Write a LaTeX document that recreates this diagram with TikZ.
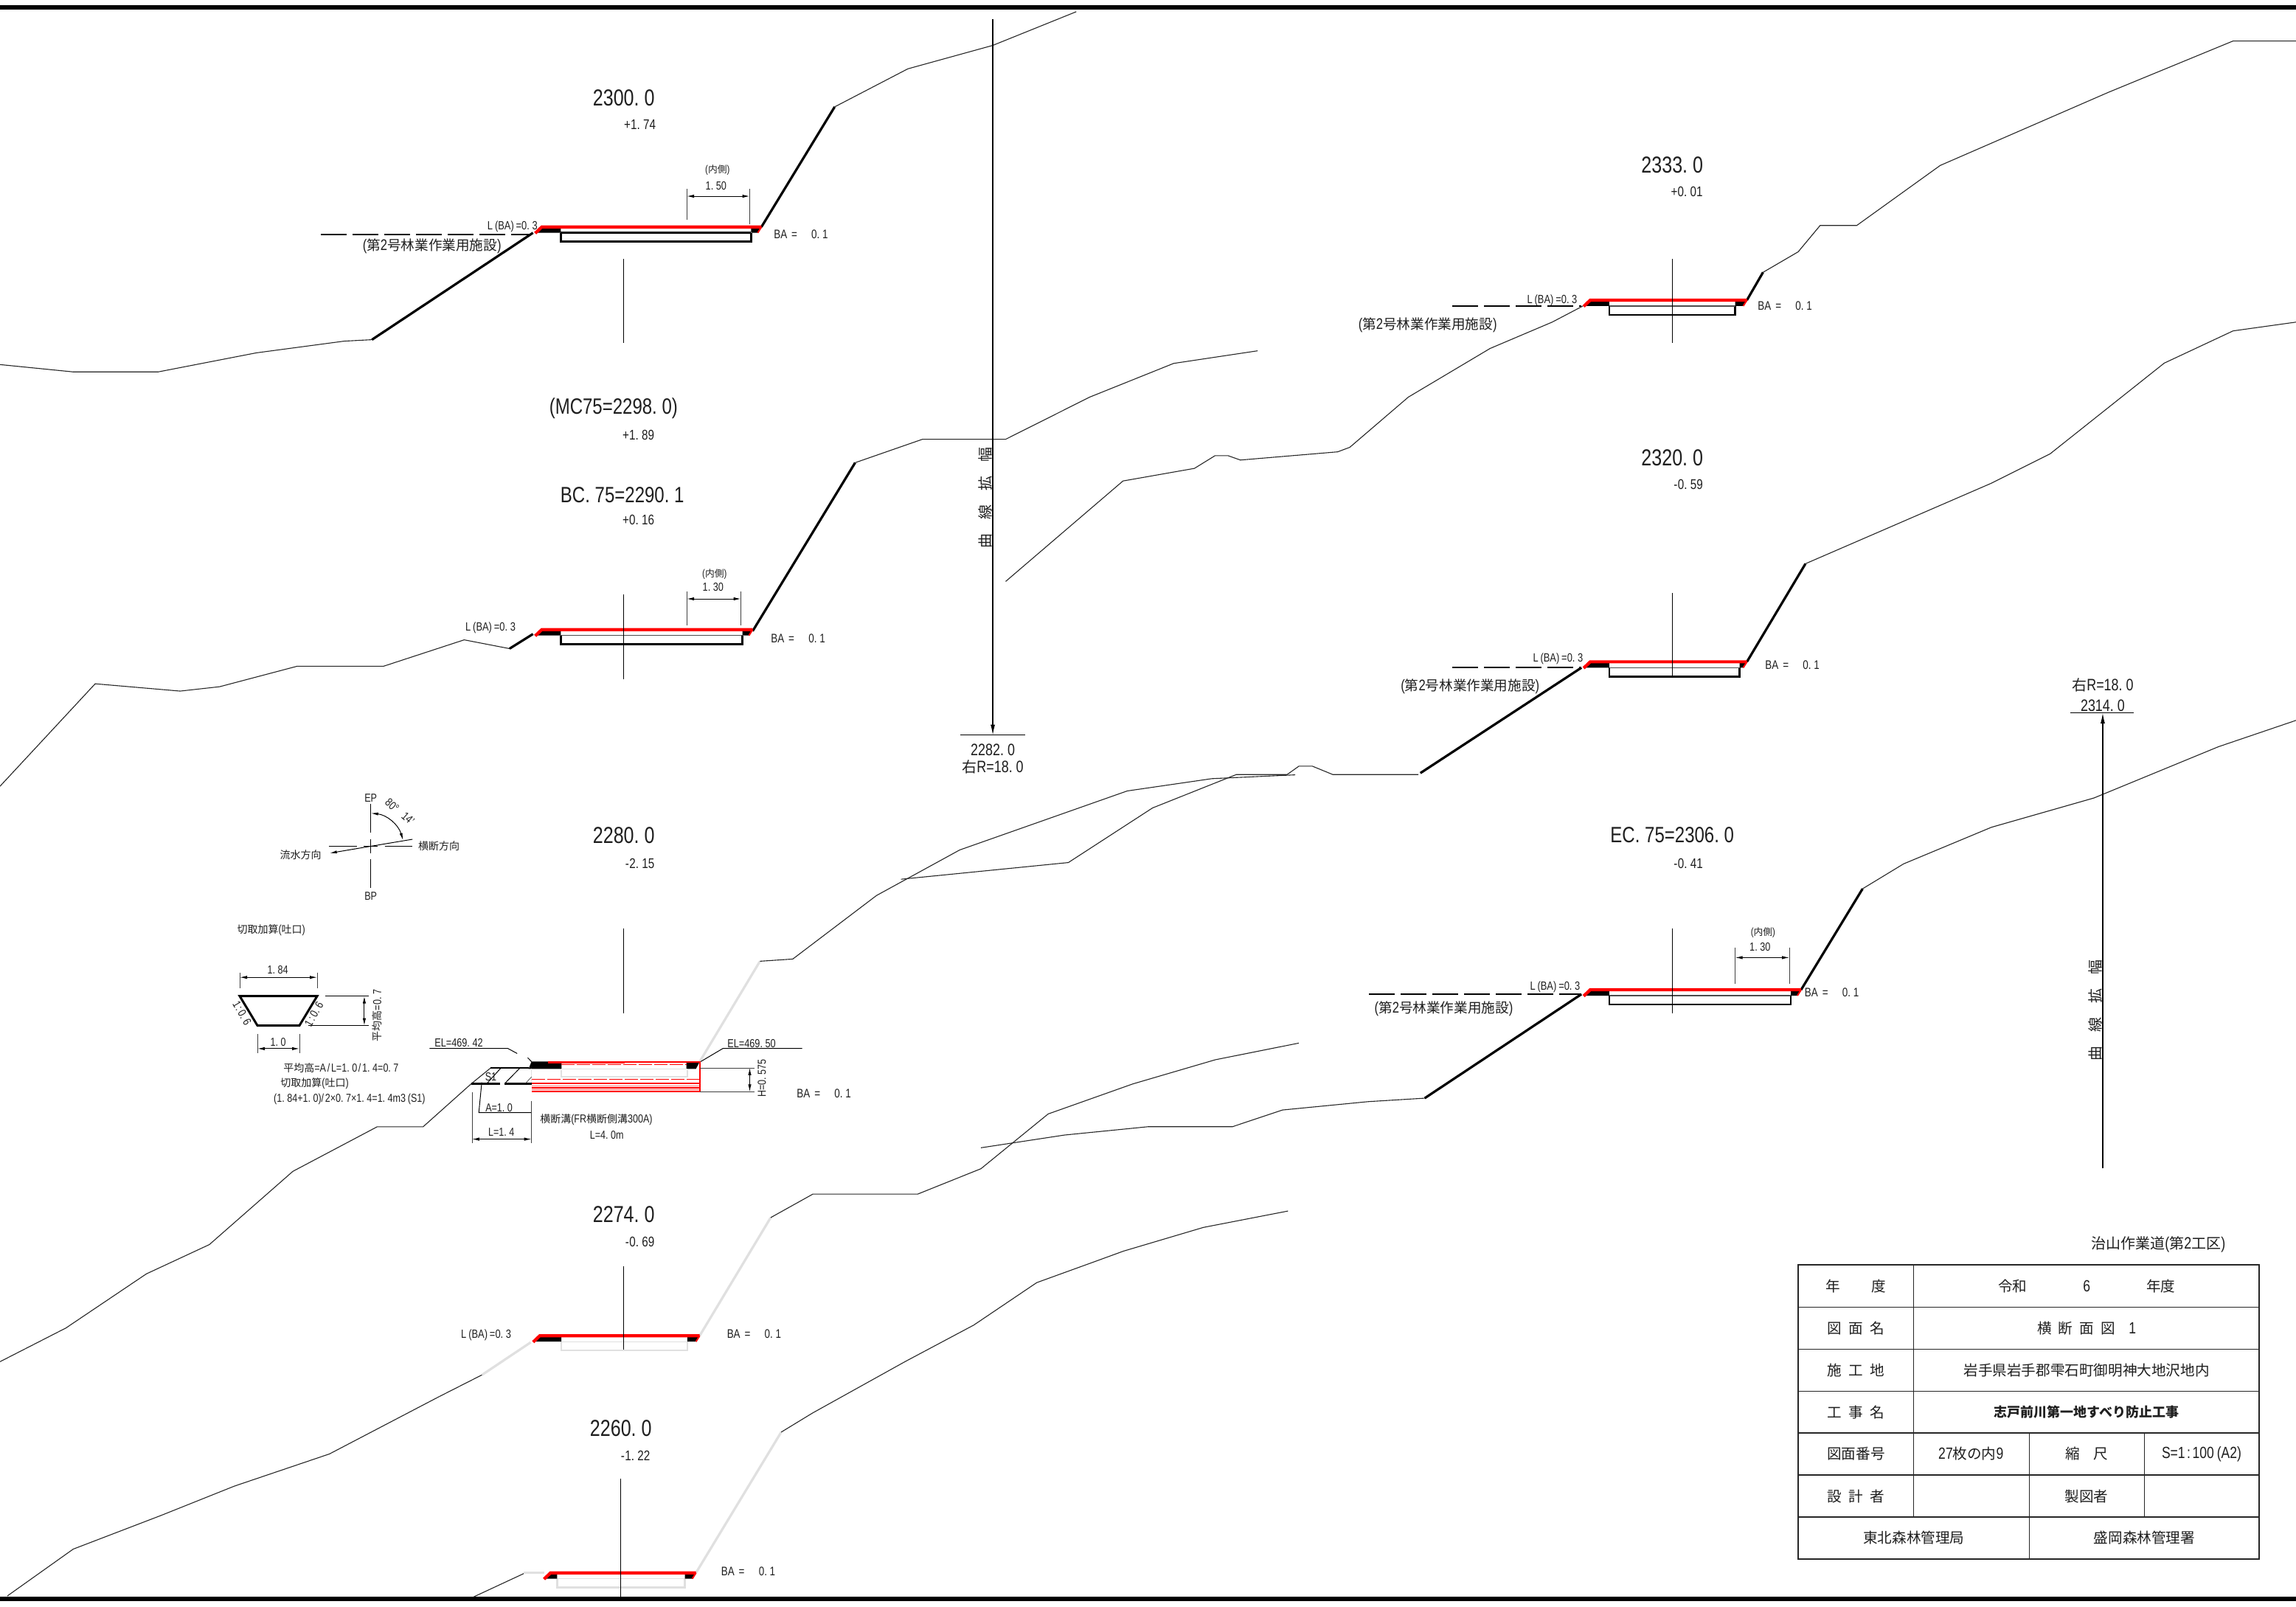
\documentclass[tikz,border=0pt]{standalone}
\usepackage{fontspec}
\usetikzlibrary{arrows.meta}
\setmainfont[FakeStretch=0.8,Scale=1.12]{Liberation Sans}
\newfontfamily\cj{Noto Sans CJK JP}
\newcommand{\J}[1]{{\cj #1}}
\newcommand{\gp}{\hspace{4.6pt}}
\newcommand{\BAt}{BA\hspace{3pt}=\hspace{9.6pt}0.1}
\newdimen\cunit
% half-width spacing for the narrow punctuation of the proportional Latin face
\XeTeXcharclass`\.=7
\XeTeXcharclass`\(=8
\XeTeXcharclass`\)=9
\XeTeXcharclass`\:=10
\XeTeXcharclass`\/=10
\XeTeXcharclass`\-=11
\XeTeXinterchartoks 7 0={\kern.25\cunit}
\XeTeXinterchartoks 0 8={\kern.2\cunit}
\XeTeXinterchartoks 9 0={\kern.2\cunit}
\XeTeXinterchartoks 0 10={\kern.125\cunit}
\XeTeXinterchartoks 10 0={\kern.125\cunit}
\XeTeXinterchartoks 11 0={\kern.03\cunit}
\definecolor{roadred}{RGB}{255,0,0}
\definecolor{softgray}{RGB}{224,224,224}
\tikzset{
  txt/.style={inner sep=0pt,outer sep=0pt,text=black!88},
  ground/.style={line width=0.55pt,black!85,line join=miter},
  cutslope/.style={line width=1.6pt,black},
  graycut/.style={line width=1.6pt,softgray},
  redline/.style={line width=2.1pt,roadred},
  thin line/.style={line width=0.5pt,black},
  centerl/.style={line width=0.7pt,black},
  dimline/.style={line width=0.5pt,black,{Latex[length=5pt,width=2.2pt]}-{Latex[length=5pt,width=2.2pt]}},
  wit/.style={line width=0.35pt,black!75},
  facility/.style={line width=1pt,black,dash pattern=on 17.5pt off 4pt},
  table/.style={line width=0.6pt,black!85},
  pile/.style={line width=0.6pt,black,-{Latex[length=7pt,width=3pt]}},
}
\newcommand{\Tx}[5][]{\node[txt,#1] (#2) at (#3) {\fontsize{#4}{#4}\selectfont\cunit=#4pt\relax\XeTeXinterchartokenstate=1 #5};}
% xL xa xb xR y bodyStyle topStyle
\newcommand{\RoadSec}[7]{%
  \draw[#6] (#2,#5+4) -- (#2,#5+10) -- (#3,#5+10) -- (#3,#5+4);
  \draw[#7] (#2,#5+4) -- (#3,#5+4);
  \fill[black] (#1,#5) -- (#2,#5) -- (#2,#5+4) -- (#1-4,#5+4) -- cycle;
  \fill[black] (#3,#5) -- (#4,#5) -- (#4-2.5,#5+4) -- (#3,#5+4) -- cycle;
  \draw[redline] (#1-4.5,#5+4.3) -- (#1,#5) -- (#4,#5);
  \draw[line width=1pt,roadred] (#4,#5) -- (#4-2.5,#5+4);
}
\begin{document}
\begin{tikzpicture}[x=0.99267pt,y=-0.99267pt]
\useasboundingbox (0,0) rectangle (1568,1097.55);
\fill[white] (0,0) rectangle (1568,1097.55);
% frame
\draw[line width=3pt,black] (0,5) -- (1568,5);
\draw[line width=3pt,black] (0,1092) -- (1568,1092);

% ===== terrain left column
\draw[ground] (0,249) -- (50,254) -- (108,254) -- (175,241) -- (235,233) -- (254,232);
\draw[cutslope] (254,232) -- (364,159);
\draw[cutslope] (520,155) -- (570,73);
\draw[ground] (570,73) -- (620,47) -- (678,31) -- (735,8);

\draw[ground] (0,537) -- (65,467) -- (123,472) -- (150,469) -- (203,455) -- (262,455) -- (317,437) -- (348,443);
\draw[cutslope] (348,443) -- (364,433);
\draw[cutslope] (514,431) -- (584,316);
\draw[ground] (584,316) -- (630,300) -- (686.8,300) -- (744.2,271.2) -- (801.5,248.2) -- (858.8,239.6);

\draw[ground] (0,930) -- (45,907) -- (100,870) -- (143,850) -- (200,800) -- (257.5,769.6) -- (288.9,769.6) -- (321.8,740.2) -- (335.2,729.3);
\draw[line width=1.1pt,black] (335.2,729.3) -- (361,729.3);
\draw[graycut] (477.9,725) -- (519,656.5);
\draw[ground] (519,656.5) -- (541.4,655) -- (598.6,611.6) -- (655.4,580.5) -- (769.8,540.2) -- (827.6,531.8) -- (884.5,529.2);

\draw[ground] (5,1090) -- (50,1058) -- (110,1035) -- (160,1015) -- (225,993) -- (300,953.8);
\draw[ground] (300,953.8) -- (329.2,939);
\draw[graycut] (329.2,939) -- (362.4,916.8);
\draw[graycut] (477.8,912.3) -- (526.3,831.6);
\draw[ground] (526.3,831.6) -- (555.2,815.5) -- (626.8,815.5) -- (669.9,798.2) -- (715.8,760.8) -- (773.6,740.3) -- (829.9,723.8) -- (887,712.4);

\draw[ground] (323.3,1090.7) -- (357.7,1074.7);
\draw[graycut] (357.7,1074.2) -- (371.7,1074.2);
\draw[graycut] (475.3,1074.2) -- (533.5,978.1);
\draw[ground] (533.5,978.1) -- (555,965) -- (618,930) -- (665,905) -- (708,876) -- (748,861.5) -- (767.2,854.5) -- (821.8,838.3) -- (879.6,827.1);

% ===== terrain right column
\draw[ground] (615.3,600.5) -- (729.6,589.1) -- (787.1,551.8) -- (844.3,529) -- (879,529) -- (887,523.3) -- (896.3,523.3) -- (910.2,529) -- (968.6,529);
\draw[cutslope] (970,528) -- (1080,456);
\draw[cutslope] (1193,452) -- (1233,385);
\draw[ground] (1233,385) -- (1360,330) -- (1400,310) -- (1478,248) -- (1525,226) -- (1568,220);

\draw[ground] (686.8,397.1) -- (766.9,328.5) -- (815.7,319.9) -- (829.8,311.2) -- (838.6,311.2) -- (847.1,314.2) -- (913.5,308.6) -- (921.8,305.5) -- (961.8,271.2) -- (1017.6,238) -- (1060,220) -- (1081,209);
\draw[cutslope] (1193,205) -- (1204,186);
\draw[ground] (1204,186) -- (1228,172) -- (1243,154) -- (1268,154) -- (1325,113) -- (1440,63) -- (1525,28) -- (1568,28);

\draw[ground] (669.9,783.9) -- (727,775.2) -- (784.2,769.5) -- (841.7,769.5) -- (875.8,758.1) -- (934.2,752.4) -- (973.4,750);
\draw[cutslope] (973,750) -- (1080,679);
\draw[cutslope] (1230,676) -- (1272,607);
\draw[ground] (1272,607) -- (1300,590) -- (1360,565) -- (1430,545) -- (1515,510) -- (1568,492);

% ===== roads
\RoadSec{370}{383}{513}{520}{155}{line width=1.3pt,black}{line width=1.3pt,black}
\RoadSec{370}{383}{507}{514}{430}{line width=1.3pt,black}{line width=0.6pt,black!70}
\RoadSec{1086}{1099}{1185}{1193}{205}{line width=1.3pt,black}{line width=0.6pt,black!70}
\RoadSec{1086}{1099}{1188}{1193}{452}{line width=1.3pt,black}{line width=0.6pt,black!70}
\RoadSec{1086}{1099}{1223}{1230}{676}{line width=1.3pt,black}{line width=0.6pt,black!70}
\RoadSec{368.6}{383.4}{469.4}{477.8}{912.3}{line width=1.3pt,softgray}{line width=0.6pt,softgray}
\RoadSec{376}{380.5}{467.7}{475.3}{1074.2}{line width=1.3pt,softgray}{line width=0.6pt,softgray}

% ===== culvert section 2280
\fill[black] (363,725) -- (383.5,725) -- (383.5,730) -- (361,730) -- cycle;
\fill[black] (468.8,725) -- (477.9,725) -- (475.3,730) -- (468.8,730) -- cycle;
\draw[line width=1.6pt,roadred] (374.2,725.4) -- (426.4,725.4);
\draw[line width=0.8pt,roadred] (426.4,725.4) -- (477.9,725.4);
\draw[line width=0.5pt,roadred,dash pattern=on 9pt off 1.5pt] (383.5,727.1) -- (468.8,727.1);
\draw[line width=1pt,softgray] (383.5,731) -- (383.5,735.5) -- (469.6,735.5) -- (469.6,731);
\draw[line width=0.5pt,softgray] (383.5,730) -- (469.6,730);
\draw[line width=0.5pt,softgray] (363,730) -- (363,740);
\draw[line width=0.5pt,roadred,dash pattern=on 9pt off 1.5pt] (363.4,737.2) -- (477.9,737.2);
\draw[line width=0.7pt,roadred] (363.4,740) -- (477.9,740);
\draw[line width=0.3pt,roadred!60] (363.4,741.6) -- (477.9,741.6);
\draw[line width=0.8pt,roadred] (363.4,743) -- (477.9,743);
\draw[line width=0.3pt,roadred!60] (363.4,744.3) -- (477.9,744.3);
\draw[line width=0.9pt,roadred] (363.4,745.6) -- (477.9,745.6);
\draw[line width=0.8pt,roadred] (477.9,725) -- (477.9,746);
\draw[line width=1.5pt,black] (321.8,740.2) -- (341.6,740.2);
\draw[line width=1.5pt,black] (344.7,740.2) -- (363,740.2);
\draw[thin line] (342,729.5) -- (332.5,740);
\draw[thin line] (355,729.5) -- (344.7,740);
\draw[wit] (363,735.5) -- (358.8,740);
\draw[thin line] (293.3,716) -- (346.7,716) -- (353.2,719.5);
\draw[thin line] (360.4,722.4) -- (363,725.1);
\draw[thin line] (547.8,716) -- (493.8,716) -- (478.6,725);
\draw[thin line] (329,739.2) -- (327,759.9) -- (363,759.9);
\draw[wit] (363,751.8) -- (363,780.8);
\draw[wit] (322.3,746) -- (322.3,780.8);
\draw[dimline] (322.3,778) -- (363,778);
\draw[wit] (477.9,729.3) -- (515.1,729.3);
\draw[wit] (477.9,745.6) -- (515.1,745.6);
\draw[dimline] (512,729.3) -- (512,745.6);

% centre lines
\draw[centerl] (426,177) -- (426,234);
\draw[centerl] (426,406) -- (426,464);
\draw[centerl] (426,634) -- (426,692);
\draw[centerl] (426,865) -- (426,922);
\draw[centerl] (424,1010) -- (424,1092);
\draw[centerl] (1142,177) -- (1142,234);
\draw[centerl] (1142,405) -- (1142,462);
\draw[centerl] (1142,634) -- (1142,692);

% facility dashed lines
\draw[facility] (219,160) -- (362,160);
\draw[facility] (992,209) -- (1080,209);
\draw[facility] (992,456) -- (1080,456);
\draw[facility] (935,679) -- (1080,679);

% dims
\draw[wit] (469,129) -- (469,150);
\draw[wit] (512,129) -- (512,153);
\draw[dimline] (469,134) -- (512,134);
\draw[wit] (469,404) -- (469,427);
\draw[wit] (506,404) -- (506,427);
\draw[dimline] (469,409) -- (506,409);
\draw[wit] (1185,647) -- (1185,672);
\draw[wit] (1222,647) -- (1222,672);
\draw[dimline] (1185,654) -- (1222,654);

% curve-widening arrows
\draw[pile] (678,13) -- (678,502);
\draw[thin line] (656,502) -- (700,502);
\draw[pile] (1436,798) -- (1436,487);
\draw[thin line] (1414,487) -- (1457,487);

% ===== compass
\draw[thin line] (253.2,549.2) -- (253.2,568.5);
\draw[thin line] (253.2,573) -- (253.2,583);
\draw[thin line] (253.2,586.9) -- (253.2,606.6);
\draw[thin line] (224.6,578) -- (243.8,578);
\draw[thin line] (248.5,578) -- (257.7,578);
\draw[thin line] (262.7,578) -- (281.7,578);
\draw[thin line,-{Latex[length=5pt,width=2pt]}] (281.7,573.2) -- (225,582.7);
\draw[thin line,{Latex[length=5pt,width=2pt]}-{Latex[length=5pt,width=2pt]}] (275.3,574) .. controls (272,563) and (264,556.5) .. (253.2,555.4);

% ===== trapezoid
\draw[line width=1.5pt,black,line join=miter] (163.7,680.3) -- (216.6,680.3) -- (204.5,700.4) -- (175.8,700.4) -- cycle;
\draw[wit] (163.7,664.2) -- (163.7,674.8);
\draw[wit] (216.6,664.2) -- (216.6,674.8);
\draw[dimline] (163.7,667.5) -- (216.6,667.5);
\draw[thin line] (222.1,680.3) -- (251.8,680.3);
\draw[thin line] (210.7,700.4) -- (251.8,700.4);
\draw[dimline] (248.8,680.3) -- (248.8,700.4);
\draw[wit] (175.8,706.2) -- (175.8,719.3);
\draw[wit] (204.5,706.2) -- (204.5,719.3);
\draw[dimline] (175.8,716.2) -- (204.5,716.2);

% ===== station labels
\Tx{s1}{426,67}{14}{2300.0}
\Tx{s1b}{437,85}{8.5}{+1.74}
\Tx{s2}{419,279}{13.4}{(MC75=2298.0)}
\Tx{s2b}{436,297}{8.5}{+1.89}
\Tx{s3}{425,338}{13.4}{BC.75=2290.1}
\Tx{s3b}{436,355}{8.5}{+0.16}
\Tx{s4}{426,570.5}{14}{2280.0}
\Tx{s4b}{437,590}{8.5}{-2.15}
\Tx{s5}{426,829.5}{14}{2274.0}
\Tx{s5b}{437,848}{8.5}{-0.69}
\Tx{s6}{424,975.5}{14}{2260.0}
\Tx{s6b}{434,994}{8.5}{-1.22}
\Tx{s7}{1142,112.5}{14}{2333.0}
\Tx{s7b}{1152,131}{8.5}{+0.01}
\Tx{s8}{1142,312.5}{14}{2320.0}
\Tx{s8b}{1153,331}{8.5}{-0.59}
\Tx{s9}{1142,570.5}{13.4}{EC.75=2306.0}
\Tx{s9b}{1153,590}{8.5}{-0.41}

% road labels
\Tx{l1}{350,155}{7.2}{L(BA)=0.3}
\Tx{l2}{335,429}{7.2}{L(BA)=0.3}
\Tx{l3}{1060,205}{7.2}{L(BA)=0.3}
\Tx{l4}{1064,450}{7.2}{L(BA)=0.3}
\Tx{l5}{1062,674}{7.2}{L(BA)=0.3}
\Tx{l6}{332,912}{7.2}{L(BA)=0.3}
\Tx{b1}{547,160}{7.5}{\BAt}
\Tx{b2}{545,436}{7.5}{\BAt}
\Tx{b3}{1219,209}{7.5}{\BAt}
\Tx{b4}{1224,454}{7.5}{\BAt}
\Tx{b5}{1251,678}{7.5}{\BAt}
\Tx{b6}{562.7,747}{7.5}{\BAt}
\Tx{b7}{515,911}{7.5}{\BAt}
\Tx{b8}{511,1073}{7.5}{\BAt}
\Tx{f1}{295,168}{9.3}{(\J{第}2\J{号林業作業用施設})}
\Tx{f2}{975,222}{9.3}{(\J{第}2\J{号林業作業用施設})}
\Tx{f3}{1004,469}{9.3}{(\J{第}2\J{号林業作業用施設})}
\Tx{f4}{986,689}{9.3}{(\J{第}2\J{号林業作業用施設})}
\Tx{n1}{490,116}{6.4}{(\J{内側})}
\Tx{d1}{489,127}{7.1}{1.50}
\Tx{n2}{488,392}{6.4}{(\J{内側})}
\Tx{d2}{487,401}{7.1}{1.30}
\Tx{n3}{1204,637}{6.4}{(\J{内側})}
\Tx{d3}{1202,647}{7.1}{1.30}

% curve labels
\Tx{r1}{678,512}{10}{2282.0}
\Tx{r2}{678,524}{10}{\J{右}R=18.0}
\Tx{r3}{1436,482}{10}{2314.0}
\Tx{r4}{1436,468}{10}{\J{右}R=18.0}
\Tx[rotate=90]{w1}{673,340}{10}{\J{曲}\hspace{9.5pt}\J{線}\hspace{9.5pt}\J{拡}\hspace{9.5pt}\J{幅}}
\Tx[rotate=90]{w2}{1431,690}{10}{\J{曲}\hspace{9.5pt}\J{線}\hspace{9.5pt}\J{拡}\hspace{9.5pt}\J{幅}}

% compass labels
\Tx{c1}{253.2,545}{7}{EP}
\Tx{c2}{253.2,612}{7}{BP}
\Tx[rotate=-42]{c3}{267.8,550}{7}{80\char"00B0}
\Tx[rotate=-42]{c4}{278.7,558.9}{7}{14'}
\Tx{c5}{299.7,578}{7}{\J{横断方向}}
\Tx{c6}{205.3,583.9}{7}{\J{流水方向}}

% trapezoid labels
\Tx{t0}{185.2,635.1}{7}{\J{切取加算}(\J{吐口})}
\Tx{t1}{189.7,662.5}{7}{1.84}
\Tx[rotate=-60]{t2}{165.3,691.9}{7}{1:0.6}
\Tx[rotate=60]{t3}{214.4,692.7}{7}{1:0.6}
\Tx[rotate=90]{t4}{257.7,693.6}{7}{\J{平均高}=0.7}
\Tx{t5}{190,711.7}{7}{1.0}
\Tx{t6}{232.9,729.3}{7}{\J{平均高}=A/L=1.0/1.4=0.7}
\Tx{t7}{214.9,739.9}{7}{\J{切取加算}(\J{吐口})}
\Tx{t8}{238.7,750.7}{7}{(1.84+1.0)/2\char"00D7 0.7\char"00D7 1.4=1.4m3(S1)}

% culvert labels
\Tx{e1}{313.3,712.3}{7.1}{EL=469.42}
\Tx{e2}{513.3,712.8}{7.1}{EL=469.50}
\Tx{e3}{335.2,735.5}{7}{S1}
\Tx{e4}{340.8,756.5}{7}{A=1.0}
\Tx{e5}{342.4,773.3}{7}{L=1.4}
\Tx[rotate=90]{e6}{520.3,736.3}{7}{H=0.575}
\Tx{e7}{407.2,764.6}{7}{\J{横断溝}(FR\J{横断側溝}300A)}
\Tx{e8}{414.4,775.3}{7}{L=4.0m}

% ===== title block
\Tx{ttl}{1474,850}{10}{\J{治山作業道}(\J{第}2\J{工区})}
\draw[line width=1pt,black!85] (1228,864) rectangle (1543,1064.6);
\foreach \yy in {892.9,921.4,950.1,978.7,1007.4,1036.1} {\draw[table] (1228,\yy) -- (1543,\yy);}
\draw[table] (1307,864) -- (1307,1036.1);
\draw[table] (1386,978.7) -- (1386,1064.6);
\draw[table] (1464.5,978.7) -- (1464.5,1036.1);
\Tx{h1}{1267.5,878.5}{9.8}{\J{年}\hspace{21pt}\J{度}}
\Tx{h2}{1267.5,907.2}{9.8}{\J{図}\gp\J{面}\gp\J{名}}
\Tx{h3}{1267.5,935.8}{9.8}{\J{施}\gp\J{工}\gp\J{地}}
\Tx{h4}{1267.5,964.4}{9.8}{\J{工}\gp\J{事}\gp\J{名}}
\Tx{h5}{1267.5,993}{9.8}{\J{図面番号}}
\Tx{h6}{1267.5,1021.8}{9.8}{\J{設}\gp\J{計}\gp\J{者}}
\Tx{v1}{1425,878.5}{9.8}{\J{令和}\hspace{38pt}6\hspace{38pt}\J{年度}}
\Tx{v2}{1425,907.2}{9.8}{\J{横}\gp\J{断}\gp\J{面}\gp\J{図}\gp\gp 1}
\Tx{v3}{1425,935.8}{9.8}{\J{岩手県岩手郡雫石町御明神大地沢地内}}
\Tx{v4}{1425,964.4}{9}{{\cj\bfseries 志戸前川第一地すべり防止工事}}
\Tx{v5}{1346,993}{9.8}{27\J{枚の内}9}
\Tx{v6}{1425,993}{9.8}{\J{縮}\hspace{9.5pt}\J{尺}}
\Tx{v7}{1503.5,993}{9.8}{S=1:100(A2)}
\Tx{v8}{1425,1021.8}{9.8}{\J{製図者}}
\Tx{v9}{1307,1050.4}{9.8}{\J{東北森林管理局}}
\Tx{v10}{1464.5,1050.4}{9.8}{\J{盛岡森林管理署}}
\end{tikzpicture}
\end{document}
